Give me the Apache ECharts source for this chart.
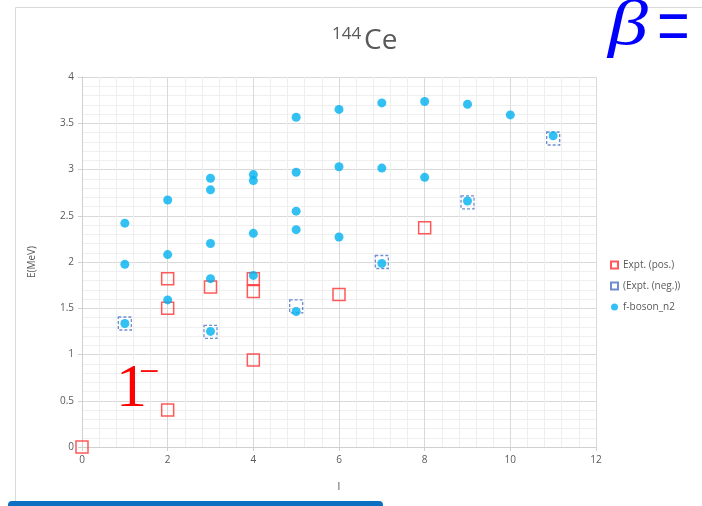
<!DOCTYPE html>
<html>
<head>
<meta charset="utf-8">
<script src="https://cdn.jsdelivr.net/npm/echarts@6/dist/echarts.min.js"></script>
<style>
  html, body { margin: 0; padding: 0; background: #ffffff; }
  #chart { width: 702px; height: 506px; }
</style>
</head>
<body>
<div id="chart"></div>
<script>
// Experimental positive-parity levels: angular momentum l and energy (MeV)
const exptPosL = [0, 2, 2, 2, 3, 4, 4, 4, 6, 8];
const exptPosE = [0.00, 0.40, 1.50, 1.82, 1.73, 0.94, 1.68, 1.82, 1.65, 2.37];

// Experimental negative-parity levels
const exptNegL = [1, 3, 5, 7, 9, 11];
const exptNegE = [1.335, 1.245, 1.52, 2.00, 2.645, 3.335];

// f-boson (n=2) model levels
const fbosonL = [1, 1, 1,
                 2, 2, 2,
                 3, 3, 3, 3, 3,
                 4, 4, 4, 4,
                 5, 5, 5, 5, 5,
                 6, 6, 6,
                 7, 7, 7,
                 8, 8,
                 9, 9,
                 10,
                 11];
const fbosonE = [2.42, 1.975, 1.335,
                 2.67, 2.08, 1.59,
                 2.905, 2.78, 2.20, 1.82, 1.25,
                 2.945, 2.88, 2.31, 1.855,
                 3.565, 2.97, 2.55, 2.35, 1.465,
                 3.65, 3.03, 2.27,
                 3.72, 3.015, 1.985,
                 3.735, 2.915,
                 3.705, 2.66,
                 3.59,
                 3.365];

const seriesNames = ['Expt. (pos.)', '(Expt. (neg.))', 'f-boson_n2'];

const pairs = (xs, ys) => xs.map((x, i) => [x, ys[i]]);

const TEXT = '#595959';
const FONT = 'Open Sans';

const chart = echarts.init(document.getElementById('chart'), null, { renderer: 'canvas' });

chart.setOption({
  backgroundColor: '#ffffff',
  animation: false,
  grid: { left: 82, right: 106, top: 77, bottom: 59, containLabel: false },
  legend: {
    orient: 'vertical',
    left: 605,
    top: 255,
    itemGap: 11,
    itemWidth: 7,
    itemHeight: 7,
    textStyle: { color: TEXT, fontFamily: FONT, fontSize: 10 },
    data: [
      { name: seriesNames[0] },
      { name: seriesNames[1] },
      { name: seriesNames[2], itemStyle: { color: '#00b0f0' }, icon: 'circle' }
    ]
  },
  xAxis: {
    type: 'value',
    min: 0, max: 12, interval: 2,
    name: 'l',
    nameLocation: 'middle',
    nameGap: 34,
    nameTextStyle: { color: TEXT, fontFamily: FONT, fontSize: 11 },
    axisLine: { show: true, lineStyle: { color: '#d0d0d0', width: 1 } },
    axisTick: { show: true, length: 4, lineStyle: { color: '#d0d0d0' } },
    axisLabel: { color: TEXT, fontFamily: FONT, fontSize: 10, margin: 8 },
    splitLine: { show: true, lineStyle: { color: '#d9d9d9', width: 1 } },
    minorTick: { show: false, splitNumber: 5 },
    minorSplitLine: { show: true, lineStyle: { color: '#efefef', width: 1 } }
  },
  yAxis: {
    type: 'value',
    min: 0, max: 4, interval: 0.5,
    name: 'E(MeV)',
    nameLocation: 'middle',
    nameGap: 45,
    nameRotate: 90,
    nameTextStyle: { color: TEXT, fontFamily: FONT, fontSize: 10 },
    axisLine: { show: true, lineStyle: { color: '#d0d0d0', width: 1 } },
    axisTick: { show: true, length: 4, lineStyle: { color: '#d0d0d0' } },
    axisLabel: { color: TEXT, fontFamily: FONT, fontSize: 10, margin: 8 },
    splitLine: { show: true, lineStyle: { color: '#d9d9d9', width: 1 } },
    minorTick: { show: false, splitNumber: 5 },
    minorSplitLine: { show: true, lineStyle: { color: '#efefef', width: 1 } }
  },
  series: [
    {
      name: seriesNames[0],
      type: 'scatter',
      symbol: 'rect',
      symbolSize: 12,
      data: pairs(exptPosL, exptPosE),
      itemStyle: { color: 'rgba(255,255,255,0)', borderColor: '#ff3030', borderWidth: 1.5 },
      z: 2
    },
    {
      name: seriesNames[1],
      type: 'scatter',
      symbol: 'rect',
      symbolSize: 13,
      data: pairs(exptNegL, exptNegE),
      itemStyle: { color: 'rgba(255,255,255,0)', borderColor: '#4a72c4', borderWidth: 1.3, borderType: [3, 2] },
      z: 3
    },
    {
      name: seriesNames[2],
      type: 'scatter',
      symbol: 'circle',
      symbolSize: 9,
      data: pairs(fbosonL, fbosonE),
      itemStyle: { color: '#00b0f0' },
      z: 4
    }
  ],
  graphic: [
    // outer chart frame
    { type: 'rect', silent: true, z: -10,
      shape: { x: 15.5, y: 7.5, width: 720, height: 540 },
      style: { fill: 'none', stroke: '#d9d9d9', lineWidth: 1 } },
    // title: 144Ce with mass-number superscript
    { type: 'text', silent: true, z: 100,
      style: { x: 332, y: 34, text: '144', fill: TEXT, font: '17px "Open Sans"', verticalAlign: 'middle' } },
    { type: 'text', silent: true, z: 100,
      style: { x: 364, y: 41, text: 'Ce', fill: TEXT, font: '28px "Open Sans"', verticalAlign: 'middle' } },
    // 1^- annotation
    { type: 'text', silent: true, z: 100,
      style: { x: 116, y: 390, text: '1', fill: '#ff0000', font: '62px "Liberation Serif"', verticalAlign: 'middle' } },
    { type: 'text', silent: true, z: 100,
      style: { x: 139, y: 374, text: '\u2212', fill: '#ff0000', font: '36px "Liberation Serif"', verticalAlign: 'middle' } },
    // beta = annotation
    { type: 'text', silent: true, z: 100, x: 608, y: 27, scaleX: 1.25, scaleY: 1.0,
      style: { x: 0, y: 0, text: '\u03b2', fill: '#0000ff', font: 'italic 64px "Liberation Serif"', verticalAlign: 'middle' } },
    { type: 'text', silent: true, z: 100, x: 657, y: 33, scaleX: 1.0, scaleY: 1.6,
      style: { x: 0, y: 0, text: '=', fill: '#0000ff', font: '58px "Liberation Serif"', verticalAlign: 'middle' } },
    // bottom bar
    { type: 'rect', silent: true, z: 100,
      shape: { x: 8, y: 501, width: 375, height: 10, r: 4 },
      style: { fill: '#0b6fc2' } }
  ]
});
</script>
</body>
</html>
